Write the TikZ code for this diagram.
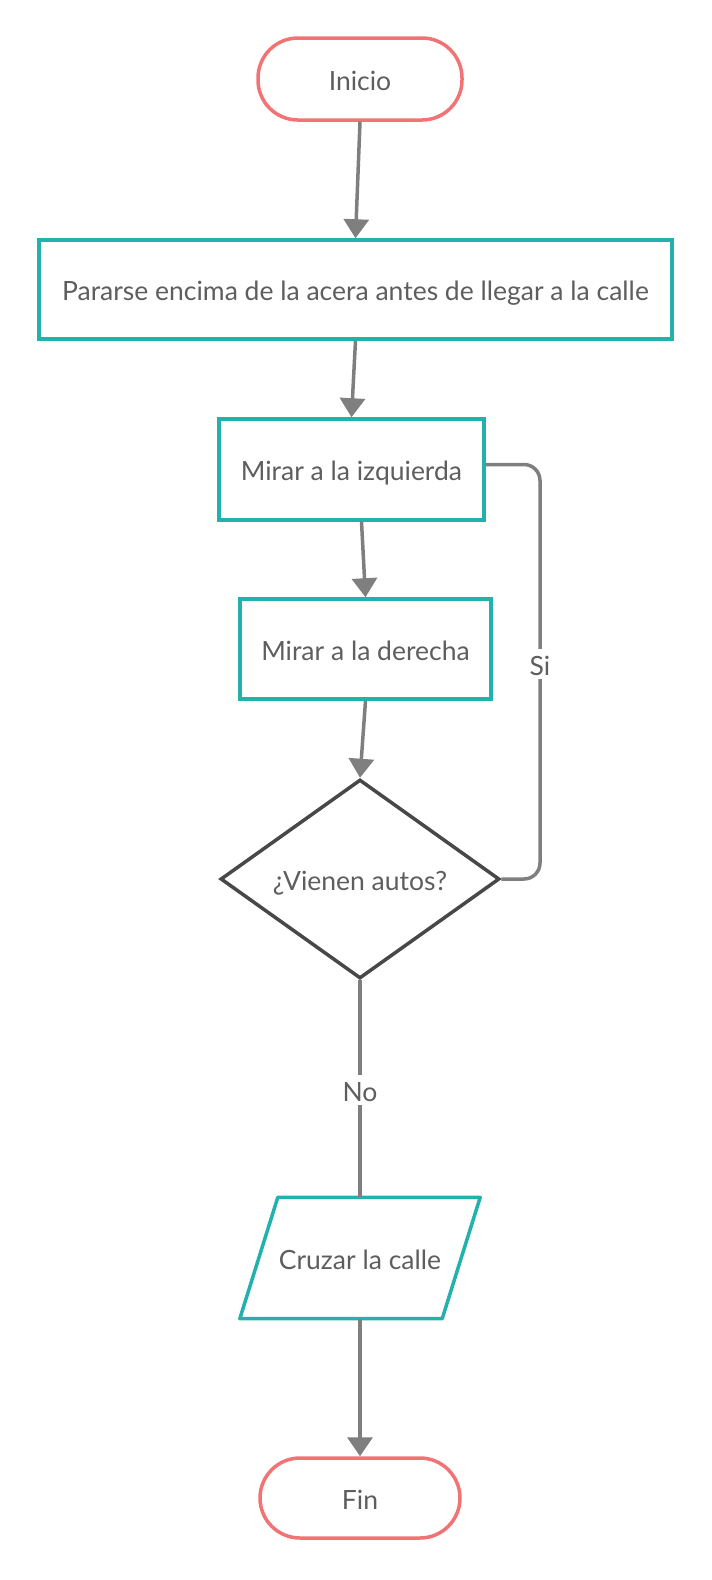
\documentclass[tikz,border=0pt]{standalone}
\usepackage{fontspec}
\setmainfont{Lato}
\usetikzlibrary{arrows.meta, shapes.geometric}
\usepackage{xcolor}

\definecolor{boxteal}{HTML}{22B1AD}
\definecolor{termred}{HTML}{F27373}
\definecolor{diagray}{HTML}{484848}
\definecolor{linegray}{HTML}{7F7F7F}
\definecolor{txtgray}{HTML}{5E5E5E}

\tikzset{
    every node/.style={font=\fontsize{26.5}{31}\selectfont, text=txtgray, text height=23pt, text depth=1pt},
    proc/.style={draw=boxteal, line width=3.5pt, fill=white, rectangle},
    term/.style={draw=termred, line width=3.5pt, fill=white, rectangle, rounded corners=40pt},
    decis/.style={draw=diagray, line width=3.5pt, fill=white, diamond, inner sep=0pt},
    inout/.style={rectangle, inner sep=0pt},
    conn/.style={draw=linegray, line width=3.5pt, -{Triangle[length=19pt, width=25pt]}},
    plain/.style={draw=linegray, line width=3.5pt},
    lbl/.style={fill=white, inner sep=3pt}
}

\begin{document}
\begin{tikzpicture}[x=1pt, y=-1pt]
            \useasboundingbox (0,0) rectangle (712,1580);

            \node[term, minimum width=204pt, minimum height=82pt] (ini) at (360,79) {Inicio};
            \node[proc, minimum width=633pt, minimum height=99pt] (acera) at (355.5,289.5) {Pararse encima de la acera antes de llegar a la calle};
            \node[proc, minimum width=265pt, minimum height=101pt] (izq) at (351.5,469.5) {Mirar a la izquierda};
            \node[proc, minimum width=251pt, minimum height=100pt] (der) at (365.5,649) {Mirar a la derecha};
            \node[decis, minimum width=279pt, minimum height=199pt] (autos) at (360,879) {¿Vienen autos?};
            \node[inout, minimum width=240pt, minimum height=121pt] (cruzar) at (360,1258) {Cruzar la calle};
            \node[term, minimum width=200pt, minimum height=80pt] (fin) at (360,1498) {Fin};

            % parallelogram outline
            \draw[boxteal, line width=3.5pt, line join=round] (cruzar.south west) -- ([xshift=38pt]cruzar.north west)
                -- (cruzar.north east) -- ([xshift=-38pt]cruzar.south east) -- cycle;

            \coordinate (si) at (540,664);

            \draw[conn] (ini.south) -- (acera.north);
            \draw[conn] (acera.south) -- (izq.north);
            \draw[conn] ([xshift=10pt]izq.south) -- (der.north);
            \draw[conn] (der.south) -- (autos.north);
            \draw[plain] (autos.south) -- (cruzar.north);
            \draw[conn] (cruzar.south) -- (fin.north);
            \draw[plain, rounded corners=16pt] (autos.east) -| (si) |- ([yshift=5pt]izq.east);

            \node[lbl] (no) at (360,1090) {No};
            \node[lbl] (silbl) at (si) {Si};
        \end{tikzpicture}
\end{document}
